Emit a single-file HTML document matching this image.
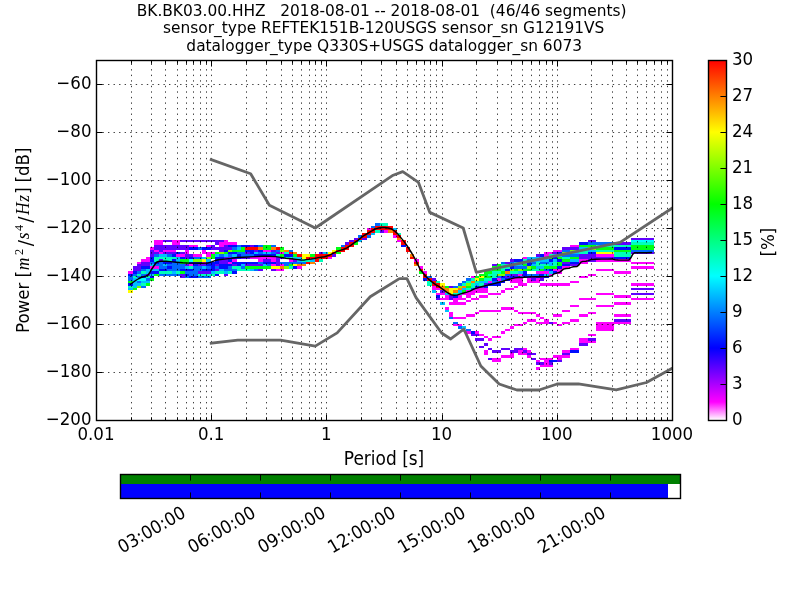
<!DOCTYPE html><html><head><meta charset="utf-8"><style>html,body{margin:0;padding:0;background:#fff;}svg{display:block;will-change:transform}svg{font-family:"DejaVu Sans","Liberation Sans",sans-serif;}</style></head><body>
<svg width="800" height="600" viewBox="0 0 800 600">
<rect x="0" y="0" width="800" height="600" fill="#fff"/>
<g clip-path="url(#axclip)">
<defs><clipPath id="axclip"><rect x="96" y="60" width="576" height="360"/></clipPath></defs>
<g><rect x="128" y="271" width="5" height="3" fill="#ff00ff"/><rect x="128" y="274" width="5" height="2" fill="#000dff"/><rect x="128" y="276" width="5" height="2" fill="#006aff"/><rect x="128" y="278" width="5" height="3" fill="#006aff"/><rect x="128" y="281" width="5" height="2" fill="#00ff15"/><rect x="128" y="283" width="5" height="3" fill="#000dff"/><rect x="128" y="286" width="5" height="2" fill="#00ffbb"/><rect x="128" y="288" width="5" height="2" fill="#00bfff"/><rect x="128" y="290" width="5" height="3" fill="#ffff00"/><rect x="133" y="266" width="4" height="3" fill="#6000ff"/><rect x="133" y="269" width="4" height="2" fill="#6000ff"/><rect x="133" y="271" width="4" height="3" fill="#000dff"/><rect x="133" y="274" width="4" height="2" fill="#006aff"/><rect x="133" y="276" width="4" height="2" fill="#00ffbb"/><rect x="133" y="278" width="4" height="3" fill="#00bfff"/><rect x="133" y="281" width="4" height="2" fill="#00bfff"/><rect x="133" y="283" width="4" height="3" fill="#00bfff"/><rect x="133" y="286" width="4" height="2" fill="#00bfff"/><rect x="133" y="288" width="4" height="2" fill="#00ff15"/><rect x="137" y="262" width="4" height="2" fill="#ff00ff"/><rect x="137" y="264" width="4" height="2" fill="#6000ff"/><rect x="137" y="266" width="4" height="3" fill="#6000ff"/><rect x="137" y="269" width="4" height="2" fill="#6000ff"/><rect x="137" y="271" width="4" height="3" fill="#006aff"/><rect x="137" y="274" width="4" height="2" fill="#00ffbb"/><rect x="137" y="276" width="4" height="2" fill="#006aff"/><rect x="137" y="278" width="4" height="3" fill="#00ffff"/><rect x="137" y="281" width="4" height="2" fill="#006aff"/><rect x="137" y="283" width="4" height="3" fill="#00bfff"/><rect x="137" y="286" width="4" height="2" fill="#7fff00"/><rect x="141" y="259" width="5" height="3" fill="#ff00ff"/><rect x="141" y="262" width="5" height="2" fill="#6000ff"/><rect x="141" y="264" width="5" height="2" fill="#6000ff"/><rect x="141" y="266" width="5" height="3" fill="#000dff"/><rect x="141" y="269" width="5" height="2" fill="#006aff"/><rect x="141" y="271" width="5" height="3" fill="#00ffbb"/><rect x="141" y="274" width="5" height="2" fill="#006aff"/><rect x="141" y="276" width="5" height="2" fill="#000dff"/><rect x="141" y="278" width="5" height="3" fill="#00ffff"/><rect x="141" y="281" width="5" height="2" fill="#00bfff"/><rect x="141" y="283" width="5" height="3" fill="#00ffbb"/><rect x="141" y="286" width="5" height="2" fill="#006aff"/><rect x="146" y="257" width="4" height="2" fill="#ff00ff"/><rect x="146" y="259" width="4" height="3" fill="#ff00ff"/><rect x="146" y="262" width="4" height="2" fill="#6000ff"/><rect x="146" y="264" width="4" height="2" fill="#6000ff"/><rect x="146" y="266" width="4" height="3" fill="#000dff"/><rect x="146" y="269" width="4" height="2" fill="#00bfff"/><rect x="146" y="271" width="4" height="3" fill="#00bfff"/><rect x="146" y="274" width="4" height="2" fill="#6000ff"/><rect x="146" y="276" width="4" height="2" fill="#00ffbb"/><rect x="146" y="278" width="4" height="3" fill="#006aff"/><rect x="146" y="281" width="4" height="2" fill="#00bfff"/><rect x="146" y="283" width="4" height="3" fill="#00ff15"/><rect x="150" y="247" width="4" height="3" fill="#ff00ff"/><rect x="150" y="250" width="4" height="2" fill="#6000ff"/><rect x="150" y="252" width="4" height="2" fill="#6000ff"/><rect x="150" y="254" width="4" height="3" fill="#6000ff"/><rect x="150" y="257" width="4" height="2" fill="#000dff"/><rect x="150" y="259" width="4" height="3" fill="#000dff"/><rect x="150" y="262" width="4" height="2" fill="#006aff"/><rect x="150" y="264" width="4" height="2" fill="#00bfff"/><rect x="150" y="266" width="4" height="3" fill="#ff00ff"/><rect x="150" y="269" width="4" height="2" fill="#00bfff"/><rect x="150" y="271" width="4" height="3" fill="#000dff"/><rect x="150" y="274" width="4" height="2" fill="#00bfff"/><rect x="150" y="276" width="4" height="2" fill="#000dff"/><rect x="150" y="278" width="4" height="3" fill="#00ff15"/><rect x="154" y="240" width="5" height="2" fill="#ff00ff"/><rect x="154" y="242" width="5" height="3" fill="#ff00ff"/><rect x="154" y="245" width="5" height="2" fill="#6000ff"/><rect x="154" y="247" width="5" height="3" fill="#6000ff"/><rect x="154" y="250" width="5" height="2" fill="#ff00ff"/><rect x="154" y="252" width="5" height="2" fill="#6000ff"/><rect x="154" y="254" width="5" height="3" fill="#006aff"/><rect x="154" y="257" width="5" height="2" fill="#00ffbb"/><rect x="154" y="259" width="5" height="3" fill="#00ffbb"/><rect x="154" y="262" width="5" height="2" fill="#000dff"/><rect x="154" y="264" width="5" height="2" fill="#006aff"/><rect x="154" y="266" width="5" height="3" fill="#ff00ff"/><rect x="154" y="269" width="5" height="2" fill="#00bfff"/><rect x="154" y="271" width="5" height="3" fill="#000dff"/><rect x="154" y="274" width="5" height="2" fill="#00ff15"/><rect x="159" y="240" width="4" height="2" fill="#ff00ff"/><rect x="159" y="242" width="4" height="3" fill="#ff00ff"/><rect x="159" y="245" width="4" height="2" fill="#6000ff"/><rect x="159" y="247" width="4" height="3" fill="#6000ff"/><rect x="159" y="250" width="4" height="2" fill="#6000ff"/><rect x="159" y="252" width="4" height="2" fill="#ff00ff"/><rect x="159" y="254" width="4" height="3" fill="#00bfff"/><rect x="159" y="257" width="4" height="2" fill="#00ffbb"/><rect x="159" y="259" width="4" height="3" fill="#6000ff"/><rect x="159" y="262" width="4" height="2" fill="#006aff"/><rect x="159" y="264" width="4" height="2" fill="#006aff"/><rect x="159" y="266" width="4" height="3" fill="#006aff"/><rect x="159" y="269" width="4" height="2" fill="#000dff"/><rect x="159" y="271" width="4" height="3" fill="#00ffbb"/><rect x="159" y="274" width="4" height="2" fill="#006aff"/><rect x="163" y="240" width="4" height="2" fill="#6000ff"/><rect x="163" y="245" width="4" height="2" fill="#6000ff"/><rect x="163" y="247" width="4" height="3" fill="#6000ff"/><rect x="163" y="250" width="4" height="2" fill="#ff00ff"/><rect x="163" y="252" width="4" height="2" fill="#6000ff"/><rect x="163" y="254" width="4" height="3" fill="#00bfff"/><rect x="163" y="257" width="4" height="2" fill="#00ffbb"/><rect x="163" y="259" width="4" height="3" fill="#00ffbb"/><rect x="163" y="262" width="4" height="2" fill="#000dff"/><rect x="163" y="264" width="4" height="2" fill="#00bfff"/><rect x="163" y="266" width="4" height="3" fill="#006aff"/><rect x="163" y="269" width="4" height="2" fill="#000dff"/><rect x="163" y="271" width="4" height="3" fill="#00ffbb"/><rect x="163" y="274" width="4" height="2" fill="#006aff"/><rect x="167" y="240" width="5" height="2" fill="#6000ff"/><rect x="167" y="245" width="5" height="2" fill="#6000ff"/><rect x="167" y="247" width="5" height="3" fill="#6000ff"/><rect x="167" y="250" width="5" height="2" fill="#ff00ff"/><rect x="167" y="252" width="5" height="2" fill="#6000ff"/><rect x="167" y="254" width="5" height="3" fill="#006aff"/><rect x="167" y="257" width="5" height="2" fill="#00ffbb"/><rect x="167" y="259" width="5" height="3" fill="#00ffbb"/><rect x="167" y="262" width="5" height="2" fill="#000dff"/><rect x="167" y="264" width="5" height="2" fill="#006aff"/><rect x="167" y="266" width="5" height="3" fill="#000dff"/><rect x="167" y="269" width="5" height="2" fill="#006aff"/><rect x="167" y="271" width="5" height="3" fill="#00ffbb"/><rect x="167" y="274" width="5" height="2" fill="#006aff"/><rect x="172" y="240" width="4" height="2" fill="#ff00ff"/><rect x="172" y="242" width="4" height="3" fill="#ff00ff"/><rect x="172" y="245" width="4" height="2" fill="#6000ff"/><rect x="172" y="247" width="4" height="3" fill="#6000ff"/><rect x="172" y="250" width="4" height="2" fill="#ff00ff"/><rect x="172" y="252" width="4" height="2" fill="#6000ff"/><rect x="172" y="254" width="4" height="3" fill="#000dff"/><rect x="172" y="257" width="4" height="2" fill="#00ffbb"/><rect x="172" y="259" width="4" height="3" fill="#000dff"/><rect x="172" y="262" width="4" height="2" fill="#006aff"/><rect x="172" y="264" width="4" height="2" fill="#006aff"/><rect x="172" y="266" width="4" height="3" fill="#006aff"/><rect x="172" y="269" width="4" height="2" fill="#006aff"/><rect x="172" y="271" width="4" height="3" fill="#00bfff"/><rect x="172" y="274" width="4" height="2" fill="#006aff"/><rect x="176" y="240" width="4" height="2" fill="#ff00ff"/><rect x="176" y="242" width="4" height="3" fill="#ff00ff"/><rect x="176" y="245" width="4" height="2" fill="#6000ff"/><rect x="176" y="247" width="4" height="3" fill="#6000ff"/><rect x="176" y="252" width="4" height="2" fill="#000dff"/><rect x="176" y="254" width="4" height="3" fill="#ff00ff"/><rect x="176" y="257" width="4" height="2" fill="#00bfff"/><rect x="176" y="259" width="4" height="3" fill="#00bfff"/><rect x="176" y="262" width="4" height="2" fill="#006aff"/><rect x="176" y="264" width="4" height="2" fill="#006aff"/><rect x="176" y="266" width="4" height="3" fill="#006aff"/><rect x="176" y="269" width="4" height="2" fill="#006aff"/><rect x="176" y="271" width="4" height="3" fill="#00ffbb"/><rect x="176" y="274" width="4" height="2" fill="#006aff"/><rect x="180" y="240" width="5" height="2" fill="#6000ff"/><rect x="180" y="245" width="5" height="2" fill="#6000ff"/><rect x="180" y="247" width="5" height="3" fill="#6000ff"/><rect x="180" y="252" width="5" height="2" fill="#6000ff"/><rect x="180" y="254" width="5" height="3" fill="#ff00ff"/><rect x="180" y="257" width="5" height="2" fill="#000dff"/><rect x="180" y="259" width="5" height="3" fill="#00ff15"/><rect x="180" y="262" width="5" height="2" fill="#00ff15"/><rect x="180" y="264" width="5" height="2" fill="#006aff"/><rect x="180" y="266" width="5" height="3" fill="#006aff"/><rect x="180" y="269" width="5" height="2" fill="#000dff"/><rect x="180" y="271" width="5" height="3" fill="#00ff15"/><rect x="180" y="274" width="5" height="2" fill="#6000ff"/><rect x="180" y="276" width="5" height="2" fill="#6000ff"/><rect x="185" y="240" width="4" height="2" fill="#6000ff"/><rect x="185" y="245" width="4" height="2" fill="#6000ff"/><rect x="185" y="247" width="4" height="3" fill="#6000ff"/><rect x="185" y="250" width="4" height="2" fill="#ff00ff"/><rect x="185" y="252" width="4" height="2" fill="#ff00ff"/><rect x="185" y="254" width="4" height="3" fill="#6000ff"/><rect x="185" y="257" width="4" height="2" fill="#6000ff"/><rect x="185" y="259" width="4" height="3" fill="#00ff15"/><rect x="185" y="262" width="4" height="2" fill="#00ff15"/><rect x="185" y="264" width="4" height="2" fill="#6000ff"/><rect x="185" y="266" width="4" height="3" fill="#00bfff"/><rect x="185" y="269" width="4" height="2" fill="#000dff"/><rect x="185" y="271" width="4" height="3" fill="#006aff"/><rect x="185" y="274" width="4" height="2" fill="#000dff"/><rect x="185" y="276" width="4" height="2" fill="#006aff"/><rect x="189" y="240" width="4" height="2" fill="#6000ff"/><rect x="189" y="245" width="4" height="2" fill="#ff00ff"/><rect x="189" y="247" width="4" height="3" fill="#000dff"/><rect x="189" y="254" width="4" height="3" fill="#6000ff"/><rect x="189" y="257" width="4" height="2" fill="#000dff"/><rect x="189" y="259" width="4" height="3" fill="#00ffff"/><rect x="189" y="262" width="4" height="2" fill="#000dff"/><rect x="189" y="264" width="4" height="2" fill="#ff00ff"/><rect x="189" y="266" width="4" height="3" fill="#00ffbb"/><rect x="189" y="269" width="4" height="2" fill="#000dff"/><rect x="189" y="271" width="4" height="3" fill="#006aff"/><rect x="189" y="274" width="4" height="2" fill="#006aff"/><rect x="189" y="276" width="4" height="2" fill="#000dff"/><rect x="193" y="240" width="5" height="2" fill="#6000ff"/><rect x="193" y="245" width="5" height="2" fill="#ff00ff"/><rect x="193" y="247" width="5" height="3" fill="#000dff"/><rect x="193" y="254" width="5" height="3" fill="#ff00ff"/><rect x="193" y="257" width="5" height="2" fill="#006aff"/><rect x="193" y="259" width="5" height="3" fill="#7fff00"/><rect x="193" y="262" width="5" height="2" fill="#000dff"/><rect x="193" y="264" width="5" height="2" fill="#000dff"/><rect x="193" y="266" width="5" height="3" fill="#006aff"/><rect x="193" y="269" width="5" height="2" fill="#006aff"/><rect x="193" y="271" width="5" height="3" fill="#006aff"/><rect x="193" y="274" width="5" height="2" fill="#006aff"/><rect x="193" y="276" width="5" height="2" fill="#000dff"/><rect x="198" y="240" width="4" height="2" fill="#6000ff"/><rect x="198" y="247" width="4" height="3" fill="#006aff"/><rect x="198" y="254" width="4" height="3" fill="#ff00ff"/><rect x="198" y="257" width="4" height="2" fill="#006aff"/><rect x="198" y="259" width="4" height="3" fill="#7fff00"/><rect x="198" y="262" width="4" height="2" fill="#000dff"/><rect x="198" y="264" width="4" height="2" fill="#6000ff"/><rect x="198" y="266" width="4" height="3" fill="#006aff"/><rect x="198" y="269" width="4" height="2" fill="#006aff"/><rect x="198" y="271" width="4" height="3" fill="#6000ff"/><rect x="198" y="274" width="4" height="2" fill="#00ffbb"/><rect x="198" y="276" width="4" height="2" fill="#006aff"/><rect x="202" y="240" width="4" height="2" fill="#6000ff"/><rect x="202" y="247" width="4" height="3" fill="#000dff"/><rect x="202" y="250" width="4" height="2" fill="#ff00ff"/><rect x="202" y="252" width="4" height="2" fill="#ff00ff"/><rect x="202" y="257" width="4" height="2" fill="#00bfff"/><rect x="202" y="259" width="4" height="3" fill="#ffff00"/><rect x="202" y="262" width="4" height="2" fill="#ff00ff"/><rect x="202" y="264" width="4" height="2" fill="#6000ff"/><rect x="202" y="266" width="4" height="3" fill="#00bfff"/><rect x="202" y="269" width="4" height="2" fill="#000dff"/><rect x="202" y="271" width="4" height="3" fill="#6000ff"/><rect x="202" y="274" width="4" height="2" fill="#00ffbb"/><rect x="202" y="276" width="4" height="2" fill="#006aff"/><rect x="206" y="240" width="5" height="2" fill="#6000ff"/><rect x="206" y="245" width="5" height="2" fill="#ff00ff"/><rect x="206" y="247" width="5" height="3" fill="#000dff"/><rect x="206" y="252" width="5" height="2" fill="#ff00ff"/><rect x="206" y="254" width="5" height="3" fill="#ff00ff"/><rect x="206" y="257" width="5" height="2" fill="#7fff00"/><rect x="206" y="259" width="5" height="3" fill="#00bfff"/><rect x="206" y="262" width="5" height="2" fill="#000dff"/><rect x="206" y="264" width="5" height="2" fill="#000dff"/><rect x="206" y="266" width="5" height="3" fill="#006aff"/><rect x="206" y="269" width="5" height="2" fill="#000dff"/><rect x="206" y="271" width="5" height="3" fill="#6000ff"/><rect x="206" y="274" width="5" height="2" fill="#00ffbb"/><rect x="206" y="276" width="5" height="2" fill="#006aff"/><rect x="211" y="240" width="4" height="2" fill="#6000ff"/><rect x="211" y="245" width="4" height="2" fill="#6000ff"/><rect x="211" y="247" width="4" height="3" fill="#6000ff"/><rect x="211" y="252" width="4" height="2" fill="#ff00ff"/><rect x="211" y="254" width="4" height="3" fill="#00ff15"/><rect x="211" y="257" width="4" height="2" fill="#00ff15"/><rect x="211" y="262" width="4" height="2" fill="#000dff"/><rect x="211" y="264" width="4" height="2" fill="#000dff"/><rect x="211" y="266" width="4" height="3" fill="#000dff"/><rect x="211" y="269" width="4" height="2" fill="#000dff"/><rect x="211" y="271" width="4" height="3" fill="#00bfff"/><rect x="211" y="274" width="4" height="2" fill="#00ffbb"/><rect x="215" y="240" width="4" height="2" fill="#6000ff"/><rect x="215" y="242" width="4" height="3" fill="#6000ff"/><rect x="215" y="247" width="4" height="3" fill="#6000ff"/><rect x="215" y="252" width="4" height="2" fill="#00ff15"/><rect x="215" y="254" width="4" height="3" fill="#00bfff"/><rect x="215" y="257" width="4" height="2" fill="#000dff"/><rect x="215" y="259" width="4" height="3" fill="#000dff"/><rect x="215" y="262" width="4" height="2" fill="#000dff"/><rect x="215" y="264" width="4" height="2" fill="#6000ff"/><rect x="215" y="266" width="4" height="3" fill="#006aff"/><rect x="215" y="269" width="4" height="2" fill="#6000ff"/><rect x="215" y="271" width="4" height="3" fill="#00ffbb"/><rect x="215" y="274" width="4" height="2" fill="#000dff"/><rect x="219" y="240" width="5" height="2" fill="#6000ff"/><rect x="219" y="242" width="5" height="3" fill="#ff00ff"/><rect x="219" y="245" width="5" height="2" fill="#ff00ff"/><rect x="219" y="247" width="5" height="3" fill="#6000ff"/><rect x="219" y="250" width="5" height="2" fill="#6000ff"/><rect x="219" y="252" width="5" height="2" fill="#7fff00"/><rect x="219" y="254" width="5" height="3" fill="#006aff"/><rect x="219" y="257" width="5" height="2" fill="#000dff"/><rect x="219" y="259" width="5" height="3" fill="#6000ff"/><rect x="219" y="262" width="5" height="2" fill="#6000ff"/><rect x="219" y="264" width="5" height="2" fill="#000dff"/><rect x="219" y="266" width="5" height="3" fill="#000dff"/><rect x="219" y="269" width="5" height="2" fill="#00bfff"/><rect x="219" y="271" width="5" height="3" fill="#00ffbb"/><rect x="224" y="240" width="4" height="2" fill="#ff00ff"/><rect x="224" y="242" width="4" height="3" fill="#ff00ff"/><rect x="224" y="245" width="4" height="2" fill="#6000ff"/><rect x="224" y="247" width="4" height="3" fill="#6000ff"/><rect x="224" y="250" width="4" height="2" fill="#000dff"/><rect x="224" y="252" width="4" height="2" fill="#00ff15"/><rect x="224" y="254" width="4" height="3" fill="#00bfff"/><rect x="224" y="257" width="4" height="2" fill="#6000ff"/><rect x="224" y="259" width="4" height="3" fill="#6000ff"/><rect x="224" y="262" width="4" height="2" fill="#6000ff"/><rect x="224" y="264" width="4" height="2" fill="#000dff"/><rect x="224" y="266" width="4" height="3" fill="#000dff"/><rect x="224" y="269" width="4" height="2" fill="#006aff"/><rect x="224" y="271" width="4" height="3" fill="#00bfff"/><rect x="224" y="274" width="4" height="2" fill="#6000ff"/><rect x="228" y="242" width="4" height="3" fill="#ff00ff"/><rect x="228" y="245" width="4" height="2" fill="#000dff"/><rect x="228" y="247" width="4" height="3" fill="#6000ff"/><rect x="228" y="250" width="4" height="2" fill="#7fff00"/><rect x="228" y="252" width="4" height="2" fill="#000dff"/><rect x="228" y="254" width="4" height="3" fill="#006aff"/><rect x="228" y="257" width="4" height="2" fill="#6000ff"/><rect x="228" y="259" width="4" height="3" fill="#000dff"/><rect x="228" y="262" width="4" height="2" fill="#ff00ff"/><rect x="228" y="264" width="4" height="2" fill="#000dff"/><rect x="228" y="266" width="4" height="3" fill="#006aff"/><rect x="228" y="269" width="4" height="2" fill="#006aff"/><rect x="228" y="271" width="4" height="3" fill="#00ffbb"/><rect x="232" y="242" width="5" height="3" fill="#ff00ff"/><rect x="232" y="245" width="5" height="2" fill="#000dff"/><rect x="232" y="247" width="5" height="3" fill="#006aff"/><rect x="232" y="250" width="5" height="2" fill="#00ff15"/><rect x="232" y="252" width="5" height="2" fill="#000dff"/><rect x="232" y="254" width="5" height="3" fill="#00bfff"/><rect x="232" y="257" width="5" height="2" fill="#000dff"/><rect x="232" y="259" width="5" height="3" fill="#ff00ff"/><rect x="232" y="262" width="5" height="2" fill="#000dff"/><rect x="232" y="264" width="5" height="2" fill="#6000ff"/><rect x="232" y="266" width="5" height="3" fill="#00ffbb"/><rect x="232" y="269" width="5" height="2" fill="#006aff"/><rect x="232" y="271" width="5" height="3" fill="#000dff"/><rect x="237" y="245" width="4" height="2" fill="#006aff"/><rect x="237" y="247" width="4" height="3" fill="#00bfff"/><rect x="237" y="250" width="4" height="2" fill="#00ff15"/><rect x="237" y="252" width="4" height="2" fill="#006aff"/><rect x="237" y="254" width="4" height="3" fill="#000dff"/><rect x="237" y="257" width="4" height="2" fill="#000dff"/><rect x="237" y="262" width="4" height="2" fill="#000dff"/><rect x="237" y="264" width="4" height="2" fill="#000dff"/><rect x="237" y="266" width="4" height="3" fill="#00ffbb"/><rect x="237" y="269" width="4" height="2" fill="#00ffbb"/><rect x="241" y="245" width="4" height="2" fill="#000dff"/><rect x="241" y="247" width="4" height="3" fill="#00ff15"/><rect x="241" y="250" width="4" height="2" fill="#00ff15"/><rect x="241" y="252" width="4" height="2" fill="#006aff"/><rect x="241" y="254" width="4" height="3" fill="#006aff"/><rect x="241" y="257" width="4" height="2" fill="#6000ff"/><rect x="241" y="262" width="4" height="2" fill="#000dff"/><rect x="241" y="264" width="4" height="2" fill="#00bfff"/><rect x="241" y="266" width="4" height="3" fill="#006aff"/><rect x="241" y="269" width="4" height="2" fill="#00ffbb"/><rect x="245" y="245" width="5" height="2" fill="#000dff"/><rect x="245" y="247" width="5" height="3" fill="#ff0000"/><rect x="245" y="250" width="5" height="2" fill="#000dff"/><rect x="245" y="252" width="5" height="2" fill="#6000ff"/><rect x="245" y="254" width="5" height="3" fill="#006aff"/><rect x="245" y="257" width="5" height="2" fill="#6000ff"/><rect x="245" y="262" width="5" height="2" fill="#000dff"/><rect x="245" y="264" width="5" height="2" fill="#6000ff"/><rect x="245" y="266" width="5" height="3" fill="#00ff15"/><rect x="245" y="269" width="5" height="2" fill="#00ffbb"/><rect x="250" y="245" width="4" height="2" fill="#6000ff"/><rect x="250" y="247" width="4" height="3" fill="#ff0000"/><rect x="250" y="250" width="4" height="2" fill="#000dff"/><rect x="250" y="252" width="4" height="2" fill="#000dff"/><rect x="250" y="254" width="4" height="3" fill="#006aff"/><rect x="250" y="257" width="4" height="2" fill="#ff00ff"/><rect x="250" y="262" width="4" height="2" fill="#000dff"/><rect x="250" y="264" width="4" height="2" fill="#6000ff"/><rect x="250" y="266" width="4" height="3" fill="#00ff15"/><rect x="250" y="269" width="4" height="2" fill="#00bfff"/><rect x="254" y="245" width="4" height="2" fill="#000dff"/><rect x="254" y="247" width="4" height="3" fill="#ff0000"/><rect x="254" y="250" width="4" height="2" fill="#6000ff"/><rect x="254" y="252" width="4" height="2" fill="#00bfff"/><rect x="254" y="254" width="4" height="3" fill="#000dff"/><rect x="254" y="257" width="4" height="2" fill="#ff00ff"/><rect x="254" y="262" width="4" height="2" fill="#000dff"/><rect x="254" y="264" width="4" height="2" fill="#6000ff"/><rect x="254" y="266" width="4" height="3" fill="#00ff15"/><rect x="254" y="269" width="4" height="2" fill="#006aff"/><rect x="258" y="245" width="5" height="2" fill="#006aff"/><rect x="258" y="247" width="5" height="3" fill="#ff8000"/><rect x="258" y="250" width="5" height="2" fill="#000dff"/><rect x="258" y="252" width="5" height="2" fill="#006aff"/><rect x="258" y="254" width="5" height="3" fill="#000dff"/><rect x="258" y="257" width="5" height="2" fill="#ff00ff"/><rect x="258" y="259" width="5" height="3" fill="#ff00ff"/><rect x="258" y="262" width="5" height="2" fill="#006aff"/><rect x="258" y="264" width="5" height="2" fill="#6000ff"/><rect x="258" y="266" width="5" height="3" fill="#00ff15"/><rect x="258" y="269" width="5" height="2" fill="#6000ff"/><rect x="263" y="245" width="4" height="2" fill="#00ff15"/><rect x="263" y="247" width="4" height="3" fill="#00ff15"/><rect x="263" y="250" width="4" height="2" fill="#ff00ff"/><rect x="263" y="252" width="4" height="2" fill="#00bfff"/><rect x="263" y="254" width="4" height="3" fill="#000dff"/><rect x="263" y="257" width="4" height="2" fill="#ff00ff"/><rect x="263" y="259" width="4" height="3" fill="#6000ff"/><rect x="263" y="262" width="4" height="2" fill="#000dff"/><rect x="263" y="264" width="4" height="2" fill="#00bfff"/><rect x="263" y="266" width="4" height="3" fill="#00ff15"/><rect x="267" y="245" width="4" height="2" fill="#00ff15"/><rect x="267" y="247" width="4" height="3" fill="#00ff15"/><rect x="267" y="250" width="4" height="2" fill="#ff00ff"/><rect x="267" y="252" width="4" height="2" fill="#00bfff"/><rect x="267" y="254" width="4" height="3" fill="#000dff"/><rect x="267" y="257" width="4" height="2" fill="#ff00ff"/><rect x="267" y="259" width="4" height="3" fill="#6000ff"/><rect x="267" y="262" width="4" height="2" fill="#000dff"/><rect x="267" y="264" width="4" height="2" fill="#006aff"/><rect x="267" y="266" width="4" height="3" fill="#00ff15"/><rect x="271" y="245" width="5" height="2" fill="#006aff"/><rect x="271" y="247" width="5" height="3" fill="#ff8000"/><rect x="271" y="250" width="5" height="2" fill="#6000ff"/><rect x="271" y="252" width="5" height="2" fill="#006aff"/><rect x="271" y="254" width="5" height="3" fill="#000dff"/><rect x="271" y="257" width="5" height="2" fill="#ff00ff"/><rect x="271" y="259" width="5" height="3" fill="#ff00ff"/><rect x="271" y="262" width="5" height="2" fill="#000dff"/><rect x="271" y="264" width="5" height="2" fill="#ff00ff"/><rect x="271" y="266" width="5" height="3" fill="#ffff00"/><rect x="271" y="269" width="5" height="2" fill="#6000ff"/><rect x="276" y="247" width="4" height="3" fill="#ff0000"/><rect x="276" y="250" width="4" height="2" fill="#006aff"/><rect x="276" y="252" width="4" height="2" fill="#6000ff"/><rect x="276" y="254" width="4" height="3" fill="#00ffbb"/><rect x="276" y="257" width="4" height="2" fill="#6000ff"/><rect x="276" y="259" width="4" height="3" fill="#6000ff"/><rect x="276" y="262" width="4" height="2" fill="#6000ff"/><rect x="276" y="264" width="4" height="2" fill="#6000ff"/><rect x="276" y="266" width="4" height="3" fill="#ffff00"/><rect x="276" y="269" width="4" height="2" fill="#ff00ff"/><rect x="280" y="247" width="4" height="3" fill="#00ff15"/><rect x="280" y="250" width="4" height="2" fill="#7fff00"/><rect x="280" y="252" width="4" height="2" fill="#ff00ff"/><rect x="280" y="254" width="4" height="3" fill="#00ff15"/><rect x="280" y="257" width="4" height="2" fill="#6000ff"/><rect x="280" y="262" width="4" height="2" fill="#006aff"/><rect x="280" y="264" width="4" height="2" fill="#ff00ff"/><rect x="280" y="266" width="4" height="3" fill="#ff8000"/><rect x="280" y="269" width="4" height="2" fill="#ff00ff"/><rect x="284" y="250" width="5" height="2" fill="#ff8000"/><rect x="284" y="252" width="5" height="2" fill="#00ffbb"/><rect x="284" y="254" width="5" height="3" fill="#000dff"/><rect x="284" y="257" width="5" height="2" fill="#00ffbb"/><rect x="284" y="262" width="5" height="2" fill="#006aff"/><rect x="284" y="264" width="5" height="2" fill="#006aff"/><rect x="284" y="266" width="5" height="3" fill="#7fff00"/><rect x="289" y="250" width="4" height="2" fill="#006aff"/><rect x="289" y="252" width="4" height="2" fill="#ff0000"/><rect x="289" y="254" width="4" height="3" fill="#000dff"/><rect x="289" y="257" width="4" height="2" fill="#00ffbb"/><rect x="289" y="259" width="4" height="3" fill="#ff00ff"/><rect x="289" y="262" width="4" height="2" fill="#006aff"/><rect x="289" y="264" width="4" height="2" fill="#00ff15"/><rect x="289" y="266" width="4" height="3" fill="#00ffbb"/><rect x="293" y="252" width="4" height="2" fill="#ff8000"/><rect x="293" y="254" width="4" height="3" fill="#00ff15"/><rect x="293" y="257" width="4" height="2" fill="#00bfff"/><rect x="293" y="259" width="4" height="3" fill="#6000ff"/><rect x="293" y="262" width="4" height="2" fill="#006aff"/><rect x="293" y="264" width="4" height="2" fill="#ffff00"/><rect x="293" y="266" width="4" height="3" fill="#000dff"/><rect x="297" y="254" width="5" height="3" fill="#ff0000"/><rect x="297" y="257" width="5" height="2" fill="#00bfff"/><rect x="297" y="259" width="5" height="3" fill="#00bfff"/><rect x="297" y="262" width="5" height="2" fill="#006aff"/><rect x="297" y="264" width="5" height="2" fill="#ff8000"/><rect x="297" y="266" width="5" height="3" fill="#ff00ff"/><rect x="302" y="254" width="4" height="3" fill="#ffff00"/><rect x="302" y="257" width="4" height="2" fill="#ffff00"/><rect x="302" y="259" width="4" height="3" fill="#00ffbb"/><rect x="302" y="262" width="4" height="2" fill="#006aff"/><rect x="302" y="264" width="4" height="2" fill="#ff8000"/><rect x="306" y="254" width="4" height="3" fill="#ffff00"/><rect x="306" y="257" width="4" height="2" fill="#ff0000"/><rect x="306" y="259" width="4" height="3" fill="#00ffbb"/><rect x="306" y="262" width="4" height="2" fill="#ff0000"/><rect x="310" y="254" width="5" height="3" fill="#00ff15"/><rect x="310" y="257" width="5" height="2" fill="#ff0000"/><rect x="310" y="259" width="5" height="3" fill="#00bfff"/><rect x="310" y="262" width="5" height="2" fill="#ff8000"/><rect x="315" y="254" width="4" height="3" fill="#ff0000"/><rect x="315" y="257" width="4" height="2" fill="#ff0000"/><rect x="315" y="259" width="4" height="3" fill="#ff0000"/><rect x="319" y="252" width="4" height="2" fill="#6000ff"/><rect x="319" y="254" width="4" height="3" fill="#ff0000"/><rect x="319" y="257" width="4" height="2" fill="#ff0000"/><rect x="319" y="259" width="4" height="3" fill="#00ffbb"/><rect x="323" y="252" width="5" height="2" fill="#00bfff"/><rect x="323" y="254" width="5" height="3" fill="#ff0000"/><rect x="323" y="257" width="5" height="2" fill="#ff0000"/><rect x="328" y="252" width="4" height="2" fill="#ffff00"/><rect x="328" y="254" width="4" height="3" fill="#ff0000"/><rect x="328" y="257" width="4" height="2" fill="#ff00ff"/><rect x="332" y="250" width="4" height="2" fill="#ffff00"/><rect x="332" y="252" width="4" height="2" fill="#ff0000"/><rect x="332" y="254" width="4" height="3" fill="#6000ff"/><rect x="336" y="247" width="5" height="3" fill="#00ff15"/><rect x="336" y="250" width="5" height="2" fill="#ff0000"/><rect x="336" y="252" width="5" height="2" fill="#00ff15"/><rect x="341" y="245" width="4" height="2" fill="#006aff"/><rect x="341" y="247" width="4" height="3" fill="#ff0000"/><rect x="341" y="250" width="4" height="2" fill="#ff0000"/><rect x="345" y="242" width="4" height="3" fill="#6000ff"/><rect x="345" y="245" width="4" height="2" fill="#ff0000"/><rect x="345" y="247" width="4" height="3" fill="#ff0000"/><rect x="349" y="240" width="5" height="2" fill="#6000ff"/><rect x="349" y="242" width="5" height="3" fill="#ff0000"/><rect x="349" y="245" width="5" height="2" fill="#ff0000"/><rect x="354" y="238" width="4" height="2" fill="#6000ff"/><rect x="354" y="240" width="4" height="2" fill="#ff0000"/><rect x="354" y="242" width="4" height="3" fill="#00ff15"/><rect x="358" y="235" width="4" height="3" fill="#006aff"/><rect x="358" y="238" width="4" height="2" fill="#ff0000"/><rect x="358" y="240" width="4" height="2" fill="#00bfff"/><rect x="362" y="233" width="5" height="2" fill="#ff0000"/><rect x="362" y="235" width="5" height="3" fill="#ff0000"/><rect x="362" y="238" width="5" height="2" fill="#6000ff"/><rect x="367" y="228" width="4" height="2" fill="#ff00ff"/><rect x="367" y="230" width="4" height="3" fill="#ff0000"/><rect x="367" y="233" width="4" height="2" fill="#ff0000"/><rect x="367" y="235" width="4" height="3" fill="#006aff"/><rect x="371" y="226" width="4" height="2" fill="#006aff"/><rect x="371" y="228" width="4" height="2" fill="#ff0000"/><rect x="371" y="230" width="4" height="3" fill="#ff0000"/><rect x="371" y="233" width="4" height="2" fill="#00bfff"/><rect x="375" y="223" width="5" height="3" fill="#006aff"/><rect x="375" y="226" width="5" height="2" fill="#ff0000"/><rect x="375" y="228" width="5" height="2" fill="#ff0000"/><rect x="375" y="230" width="5" height="3" fill="#00ffbb"/><rect x="380" y="223" width="4" height="3" fill="#00ffbb"/><rect x="380" y="226" width="4" height="2" fill="#ff0000"/><rect x="380" y="228" width="4" height="2" fill="#ff0000"/><rect x="380" y="230" width="4" height="3" fill="#6000ff"/><rect x="384" y="223" width="4" height="3" fill="#00ffbb"/><rect x="384" y="226" width="4" height="2" fill="#ff0000"/><rect x="384" y="228" width="4" height="2" fill="#ff0000"/><rect x="384" y="230" width="4" height="3" fill="#ff00ff"/><rect x="388" y="226" width="5" height="2" fill="#ff0000"/><rect x="388" y="228" width="5" height="2" fill="#ff0000"/><rect x="388" y="230" width="5" height="3" fill="#ff8000"/><rect x="393" y="228" width="4" height="2" fill="#00bfff"/><rect x="393" y="230" width="4" height="3" fill="#ff0000"/><rect x="393" y="233" width="4" height="2" fill="#ff0000"/><rect x="393" y="235" width="4" height="3" fill="#ff00ff"/><rect x="397" y="233" width="4" height="2" fill="#00ffbb"/><rect x="397" y="235" width="4" height="3" fill="#ff0000"/><rect x="397" y="238" width="4" height="2" fill="#ff8000"/><rect x="397" y="240" width="4" height="2" fill="#ff00ff"/><rect x="401" y="240" width="5" height="2" fill="#ff0000"/><rect x="401" y="242" width="5" height="3" fill="#ff0000"/><rect x="401" y="245" width="5" height="2" fill="#000dff"/><rect x="406" y="247" width="4" height="3" fill="#ff0000"/><rect x="406" y="250" width="4" height="2" fill="#ff0000"/><rect x="410" y="254" width="4" height="3" fill="#ff8000"/><rect x="410" y="257" width="4" height="2" fill="#ff0000"/><rect x="414" y="259" width="5" height="3" fill="#ff00ff"/><rect x="414" y="262" width="5" height="2" fill="#ff0000"/><rect x="414" y="264" width="5" height="2" fill="#ff8000"/><rect x="419" y="266" width="4" height="3" fill="#ff00ff"/><rect x="419" y="269" width="4" height="2" fill="#ff0000"/><rect x="419" y="271" width="4" height="3" fill="#00ff15"/><rect x="423" y="271" width="4" height="3" fill="#ff00ff"/><rect x="423" y="274" width="4" height="2" fill="#ff0000"/><rect x="423" y="276" width="4" height="2" fill="#ff0000"/><rect x="423" y="278" width="4" height="3" fill="#000dff"/><rect x="427" y="276" width="5" height="2" fill="#006aff"/><rect x="427" y="278" width="5" height="3" fill="#ff0000"/><rect x="427" y="281" width="5" height="2" fill="#00ffbb"/><rect x="427" y="283" width="5" height="3" fill="#00ffbb"/><rect x="432" y="278" width="4" height="3" fill="#6000ff"/><rect x="432" y="281" width="4" height="2" fill="#ff0000"/><rect x="432" y="283" width="4" height="3" fill="#ff0000"/><rect x="432" y="286" width="4" height="2" fill="#ff00ff"/><rect x="432" y="288" width="4" height="2" fill="#ff00ff"/><rect x="432" y="290" width="4" height="3" fill="#00bfff"/><rect x="436" y="281" width="4" height="2" fill="#00ffbb"/><rect x="436" y="283" width="4" height="3" fill="#ff0000"/><rect x="436" y="286" width="4" height="2" fill="#ff0000"/><rect x="436" y="288" width="4" height="2" fill="#ff00ff"/><rect x="436" y="293" width="4" height="2" fill="#ff00ff"/><rect x="436" y="295" width="4" height="3" fill="#000dff"/><rect x="436" y="298" width="4" height="2" fill="#6000ff"/><rect x="440" y="283" width="5" height="3" fill="#ffff00"/><rect x="440" y="286" width="5" height="2" fill="#ff8000"/><rect x="440" y="288" width="5" height="2" fill="#ff8000"/><rect x="440" y="290" width="5" height="3" fill="#6000ff"/><rect x="440" y="293" width="5" height="2" fill="#ff00ff"/><rect x="440" y="298" width="5" height="2" fill="#ff00ff"/><rect x="440" y="302" width="5" height="3" fill="#00bfff"/><rect x="445" y="286" width="4" height="2" fill="#00ff15"/><rect x="445" y="288" width="4" height="2" fill="#ff8000"/><rect x="445" y="290" width="4" height="3" fill="#ff8000"/><rect x="445" y="293" width="4" height="2" fill="#00bfff"/><rect x="445" y="295" width="4" height="3" fill="#ff00ff"/><rect x="445" y="298" width="4" height="2" fill="#ff00ff"/><rect x="445" y="307" width="4" height="3" fill="#ff00ff"/><rect x="445" y="310" width="4" height="2" fill="#00bfff"/><rect x="449" y="286" width="4" height="2" fill="#6000ff"/><rect x="449" y="288" width="4" height="2" fill="#ffff00"/><rect x="449" y="290" width="4" height="3" fill="#ffff00"/><rect x="449" y="293" width="4" height="2" fill="#ffff00"/><rect x="449" y="295" width="4" height="3" fill="#6000ff"/><rect x="449" y="298" width="4" height="2" fill="#6000ff"/><rect x="449" y="302" width="4" height="3" fill="#ff00ff"/><rect x="449" y="312" width="4" height="2" fill="#ff00ff"/><rect x="449" y="314" width="4" height="3" fill="#ff00ff"/><rect x="449" y="317" width="4" height="2" fill="#006aff"/><rect x="453" y="286" width="5" height="2" fill="#006aff"/><rect x="453" y="288" width="5" height="2" fill="#ffff00"/><rect x="453" y="290" width="5" height="3" fill="#ff8000"/><rect x="453" y="293" width="5" height="2" fill="#00ffbb"/><rect x="453" y="295" width="5" height="3" fill="#000dff"/><rect x="453" y="298" width="5" height="2" fill="#ff00ff"/><rect x="453" y="300" width="5" height="2" fill="#ff00ff"/><rect x="453" y="302" width="5" height="3" fill="#ff00ff"/><rect x="453" y="317" width="5" height="2" fill="#ff00ff"/><rect x="453" y="322" width="5" height="2" fill="#006aff"/><rect x="453" y="324" width="5" height="2" fill="#ff00ff"/><rect x="458" y="283" width="4" height="3" fill="#006aff"/><rect x="458" y="286" width="4" height="2" fill="#7fff00"/><rect x="458" y="288" width="4" height="2" fill="#ff8000"/><rect x="458" y="290" width="4" height="3" fill="#00bfff"/><rect x="458" y="293" width="4" height="2" fill="#00ffbb"/><rect x="458" y="295" width="4" height="3" fill="#ff00ff"/><rect x="458" y="298" width="4" height="2" fill="#ff00ff"/><rect x="458" y="302" width="4" height="3" fill="#ff00ff"/><rect x="458" y="317" width="4" height="2" fill="#ff00ff"/><rect x="458" y="324" width="4" height="2" fill="#ff00ff"/><rect x="458" y="326" width="4" height="3" fill="#006aff"/><rect x="462" y="281" width="4" height="2" fill="#006aff"/><rect x="462" y="283" width="4" height="3" fill="#00ffbb"/><rect x="462" y="286" width="4" height="2" fill="#ff8000"/><rect x="462" y="288" width="4" height="2" fill="#00bfff"/><rect x="462" y="290" width="4" height="3" fill="#00ff15"/><rect x="462" y="293" width="4" height="2" fill="#ff00ff"/><rect x="462" y="298" width="4" height="2" fill="#ff00ff"/><rect x="462" y="302" width="4" height="3" fill="#ff00ff"/><rect x="462" y="317" width="4" height="2" fill="#ff00ff"/><rect x="462" y="326" width="4" height="3" fill="#00bfff"/><rect x="466" y="278" width="5" height="3" fill="#006aff"/><rect x="466" y="281" width="5" height="2" fill="#00ffbb"/><rect x="466" y="283" width="5" height="3" fill="#7fff00"/><rect x="466" y="286" width="5" height="2" fill="#00ff15"/><rect x="466" y="288" width="5" height="2" fill="#00ffbb"/><rect x="466" y="290" width="5" height="3" fill="#ff00ff"/><rect x="466" y="293" width="5" height="2" fill="#ff00ff"/><rect x="466" y="295" width="5" height="3" fill="#ff00ff"/><rect x="466" y="300" width="5" height="2" fill="#ff00ff"/><rect x="466" y="314" width="5" height="3" fill="#ff00ff"/><rect x="466" y="329" width="5" height="2" fill="#006aff"/><rect x="466" y="331" width="5" height="3" fill="#ff00ff"/><rect x="471" y="276" width="4" height="2" fill="#ff00ff"/><rect x="471" y="278" width="4" height="3" fill="#00ffbb"/><rect x="471" y="281" width="4" height="2" fill="#ff8000"/><rect x="471" y="283" width="4" height="3" fill="#00ffbb"/><rect x="471" y="286" width="4" height="2" fill="#00ffbb"/><rect x="471" y="288" width="4" height="2" fill="#006aff"/><rect x="471" y="290" width="4" height="3" fill="#ff00ff"/><rect x="471" y="293" width="4" height="2" fill="#ff00ff"/><rect x="471" y="298" width="4" height="2" fill="#ff00ff"/><rect x="471" y="314" width="4" height="3" fill="#ff00ff"/><rect x="471" y="331" width="4" height="3" fill="#000dff"/><rect x="471" y="334" width="4" height="2" fill="#6000ff"/><rect x="475" y="276" width="4" height="2" fill="#00ff15"/><rect x="475" y="278" width="4" height="3" fill="#ffff00"/><rect x="475" y="281" width="4" height="2" fill="#00ffbb"/><rect x="475" y="283" width="4" height="3" fill="#00bfff"/><rect x="475" y="286" width="4" height="2" fill="#000dff"/><rect x="475" y="288" width="4" height="2" fill="#ff00ff"/><rect x="475" y="290" width="4" height="3" fill="#ff00ff"/><rect x="475" y="298" width="4" height="2" fill="#ff00ff"/><rect x="475" y="312" width="4" height="2" fill="#ff00ff"/><rect x="475" y="331" width="4" height="3" fill="#ff00ff"/><rect x="475" y="334" width="4" height="2" fill="#6000ff"/><rect x="475" y="338" width="4" height="3" fill="#6000ff"/><rect x="479" y="274" width="5" height="2" fill="#00ff15"/><rect x="479" y="276" width="5" height="2" fill="#ffff00"/><rect x="479" y="278" width="5" height="3" fill="#00ff15"/><rect x="479" y="281" width="5" height="2" fill="#00bfff"/><rect x="479" y="283" width="5" height="3" fill="#00ffbb"/><rect x="479" y="286" width="5" height="2" fill="#6000ff"/><rect x="479" y="288" width="5" height="2" fill="#ff00ff"/><rect x="479" y="290" width="5" height="3" fill="#ff00ff"/><rect x="479" y="295" width="5" height="3" fill="#ff00ff"/><rect x="479" y="310" width="5" height="2" fill="#ff00ff"/><rect x="479" y="334" width="5" height="2" fill="#ff00ff"/><rect x="479" y="338" width="5" height="3" fill="#6000ff"/><rect x="479" y="346" width="5" height="2" fill="#6000ff"/><rect x="484" y="271" width="4" height="3" fill="#00ff15"/><rect x="484" y="274" width="4" height="2" fill="#00ff15"/><rect x="484" y="276" width="4" height="2" fill="#00ff15"/><rect x="484" y="278" width="4" height="3" fill="#00ffbb"/><rect x="484" y="281" width="4" height="2" fill="#00bfff"/><rect x="484" y="283" width="4" height="3" fill="#6000ff"/><rect x="484" y="286" width="4" height="2" fill="#000dff"/><rect x="484" y="288" width="4" height="2" fill="#ff00ff"/><rect x="484" y="290" width="4" height="3" fill="#ff00ff"/><rect x="484" y="295" width="4" height="3" fill="#ff00ff"/><rect x="484" y="310" width="4" height="2" fill="#ff00ff"/><rect x="484" y="336" width="4" height="2" fill="#ff00ff"/><rect x="484" y="343" width="4" height="3" fill="#6000ff"/><rect x="484" y="350" width="4" height="3" fill="#ff00ff"/><rect x="484" y="353" width="4" height="2" fill="#ff00ff"/><rect x="488" y="269" width="4" height="2" fill="#00ffbb"/><rect x="488" y="271" width="4" height="3" fill="#00ff15"/><rect x="488" y="274" width="4" height="2" fill="#00ffbb"/><rect x="488" y="276" width="4" height="2" fill="#00ff15"/><rect x="488" y="278" width="4" height="3" fill="#00ffbb"/><rect x="488" y="281" width="4" height="2" fill="#ff00ff"/><rect x="488" y="283" width="4" height="3" fill="#000dff"/><rect x="488" y="293" width="4" height="2" fill="#ff00ff"/><rect x="488" y="310" width="4" height="2" fill="#ff00ff"/><rect x="488" y="338" width="4" height="3" fill="#ff00ff"/><rect x="488" y="348" width="4" height="2" fill="#6000ff"/><rect x="488" y="358" width="4" height="2" fill="#6000ff"/><rect x="492" y="264" width="5" height="2" fill="#6000ff"/><rect x="492" y="266" width="5" height="3" fill="#00ff15"/><rect x="492" y="269" width="5" height="2" fill="#00ff15"/><rect x="492" y="271" width="5" height="3" fill="#00ffbb"/><rect x="492" y="274" width="5" height="2" fill="#00ffbb"/><rect x="492" y="276" width="5" height="2" fill="#00ffbb"/><rect x="492" y="278" width="5" height="3" fill="#000dff"/><rect x="492" y="281" width="5" height="2" fill="#006aff"/><rect x="492" y="283" width="5" height="3" fill="#000dff"/><rect x="492" y="293" width="5" height="2" fill="#ff00ff"/><rect x="492" y="310" width="5" height="2" fill="#ff00ff"/><rect x="492" y="336" width="5" height="2" fill="#ff00ff"/><rect x="492" y="350" width="5" height="3" fill="#6000ff"/><rect x="492" y="358" width="5" height="2" fill="#ff00ff"/><rect x="492" y="360" width="5" height="2" fill="#ff00ff"/><rect x="497" y="264" width="4" height="2" fill="#00ff15"/><rect x="497" y="266" width="4" height="3" fill="#00ff15"/><rect x="497" y="269" width="4" height="2" fill="#00ff15"/><rect x="497" y="271" width="4" height="3" fill="#00ffbb"/><rect x="497" y="274" width="4" height="2" fill="#7fff00"/><rect x="497" y="276" width="4" height="2" fill="#006aff"/><rect x="497" y="278" width="4" height="3" fill="#ff00ff"/><rect x="497" y="281" width="4" height="2" fill="#006aff"/><rect x="497" y="283" width="4" height="3" fill="#000dff"/><rect x="497" y="293" width="4" height="2" fill="#ff00ff"/><rect x="497" y="310" width="4" height="2" fill="#ff00ff"/><rect x="497" y="336" width="4" height="2" fill="#ff00ff"/><rect x="497" y="350" width="4" height="3" fill="#6000ff"/><rect x="497" y="358" width="4" height="2" fill="#ff00ff"/><rect x="497" y="360" width="4" height="2" fill="#ff00ff"/><rect x="501" y="262" width="4" height="2" fill="#006aff"/><rect x="501" y="264" width="4" height="2" fill="#00ffbb"/><rect x="501" y="266" width="4" height="3" fill="#00ffbb"/><rect x="501" y="269" width="4" height="2" fill="#00ffbb"/><rect x="501" y="271" width="4" height="3" fill="#00ff15"/><rect x="501" y="274" width="4" height="2" fill="#7fff00"/><rect x="501" y="276" width="4" height="2" fill="#000dff"/><rect x="501" y="278" width="4" height="3" fill="#006aff"/><rect x="501" y="281" width="4" height="2" fill="#000dff"/><rect x="501" y="290" width="4" height="3" fill="#ff00ff"/><rect x="501" y="307" width="4" height="3" fill="#ff00ff"/><rect x="501" y="331" width="4" height="3" fill="#ff00ff"/><rect x="501" y="348" width="4" height="2" fill="#6000ff"/><rect x="501" y="355" width="4" height="3" fill="#ff00ff"/><rect x="505" y="262" width="5" height="2" fill="#6000ff"/><rect x="505" y="264" width="5" height="2" fill="#00ffbb"/><rect x="505" y="266" width="5" height="3" fill="#00ffbb"/><rect x="505" y="269" width="5" height="2" fill="#000dff"/><rect x="505" y="271" width="5" height="3" fill="#ff8000"/><rect x="505" y="274" width="5" height="2" fill="#006aff"/><rect x="505" y="276" width="5" height="2" fill="#6000ff"/><rect x="505" y="278" width="5" height="3" fill="#000dff"/><rect x="505" y="288" width="5" height="2" fill="#ff00ff"/><rect x="505" y="307" width="5" height="3" fill="#ff00ff"/><rect x="505" y="329" width="5" height="2" fill="#ff00ff"/><rect x="505" y="348" width="5" height="2" fill="#6000ff"/><rect x="505" y="355" width="5" height="3" fill="#ff00ff"/><rect x="510" y="259" width="4" height="3" fill="#6000ff"/><rect x="510" y="262" width="4" height="2" fill="#006aff"/><rect x="510" y="264" width="4" height="2" fill="#00bfff"/><rect x="510" y="266" width="4" height="3" fill="#000dff"/><rect x="510" y="269" width="4" height="2" fill="#7fff00"/><rect x="510" y="271" width="4" height="3" fill="#00ffbb"/><rect x="510" y="274" width="4" height="2" fill="#6000ff"/><rect x="510" y="276" width="4" height="2" fill="#000dff"/><rect x="510" y="278" width="4" height="3" fill="#ff00ff"/><rect x="510" y="281" width="4" height="2" fill="#ff00ff"/><rect x="510" y="288" width="4" height="2" fill="#ff00ff"/><rect x="510" y="307" width="4" height="3" fill="#ff00ff"/><rect x="510" y="326" width="4" height="3" fill="#ff00ff"/><rect x="510" y="350" width="4" height="3" fill="#6000ff"/><rect x="510" y="353" width="4" height="2" fill="#ff00ff"/><rect x="510" y="355" width="4" height="3" fill="#ff00ff"/><rect x="514" y="259" width="4" height="3" fill="#000dff"/><rect x="514" y="262" width="4" height="2" fill="#00bfff"/><rect x="514" y="264" width="4" height="2" fill="#00bfff"/><rect x="514" y="266" width="4" height="3" fill="#006aff"/><rect x="514" y="269" width="4" height="2" fill="#00ff15"/><rect x="514" y="271" width="4" height="3" fill="#00ffbb"/><rect x="514" y="274" width="4" height="2" fill="#6000ff"/><rect x="514" y="276" width="4" height="2" fill="#000dff"/><rect x="514" y="278" width="4" height="3" fill="#ff00ff"/><rect x="514" y="281" width="4" height="2" fill="#ff00ff"/><rect x="514" y="286" width="4" height="2" fill="#ff00ff"/><rect x="514" y="310" width="4" height="2" fill="#ff00ff"/><rect x="514" y="324" width="4" height="2" fill="#ff00ff"/><rect x="514" y="348" width="4" height="2" fill="#6000ff"/><rect x="514" y="350" width="4" height="3" fill="#6000ff"/><rect x="518" y="259" width="5" height="3" fill="#000dff"/><rect x="518" y="262" width="5" height="2" fill="#00bfff"/><rect x="518" y="264" width="5" height="2" fill="#00bfff"/><rect x="518" y="266" width="5" height="3" fill="#006aff"/><rect x="518" y="269" width="5" height="2" fill="#7fff00"/><rect x="518" y="271" width="5" height="3" fill="#00bfff"/><rect x="518" y="274" width="5" height="2" fill="#ff00ff"/><rect x="518" y="276" width="5" height="2" fill="#006aff"/><rect x="518" y="278" width="5" height="3" fill="#ff00ff"/><rect x="518" y="281" width="5" height="2" fill="#ff00ff"/><rect x="518" y="283" width="5" height="3" fill="#ff00ff"/><rect x="518" y="312" width="5" height="2" fill="#ff00ff"/><rect x="518" y="324" width="5" height="2" fill="#ff00ff"/><rect x="518" y="348" width="5" height="2" fill="#6000ff"/><rect x="518" y="350" width="5" height="3" fill="#ff00ff"/><rect x="518" y="353" width="5" height="2" fill="#ff00ff"/><rect x="523" y="257" width="4" height="2" fill="#ff00ff"/><rect x="523" y="259" width="4" height="3" fill="#00ffbb"/><rect x="523" y="262" width="4" height="2" fill="#00bfff"/><rect x="523" y="264" width="4" height="2" fill="#00ff15"/><rect x="523" y="266" width="4" height="3" fill="#006aff"/><rect x="523" y="269" width="4" height="2" fill="#00ff15"/><rect x="523" y="271" width="4" height="3" fill="#000dff"/><rect x="523" y="274" width="4" height="2" fill="#000dff"/><rect x="523" y="276" width="4" height="2" fill="#000dff"/><rect x="523" y="283" width="4" height="3" fill="#ff00ff"/><rect x="523" y="312" width="4" height="2" fill="#ff00ff"/><rect x="523" y="322" width="4" height="2" fill="#ff00ff"/><rect x="523" y="348" width="4" height="2" fill="#ff00ff"/><rect x="523" y="350" width="4" height="3" fill="#6000ff"/><rect x="523" y="353" width="4" height="2" fill="#ff00ff"/><rect x="527" y="257" width="4" height="2" fill="#00bfff"/><rect x="527" y="259" width="4" height="3" fill="#006aff"/><rect x="527" y="262" width="4" height="2" fill="#000dff"/><rect x="527" y="264" width="4" height="2" fill="#000dff"/><rect x="527" y="266" width="4" height="3" fill="#7fff00"/><rect x="527" y="269" width="4" height="2" fill="#00ff15"/><rect x="527" y="274" width="4" height="2" fill="#006aff"/><rect x="527" y="276" width="4" height="2" fill="#000dff"/><rect x="527" y="278" width="4" height="3" fill="#ff00ff"/><rect x="527" y="281" width="4" height="2" fill="#ff00ff"/><rect x="527" y="312" width="4" height="2" fill="#ff00ff"/><rect x="527" y="319" width="4" height="3" fill="#ff00ff"/><rect x="527" y="350" width="4" height="3" fill="#ff00ff"/><rect x="527" y="353" width="4" height="2" fill="#6000ff"/><rect x="527" y="355" width="4" height="3" fill="#ff00ff"/><rect x="531" y="257" width="5" height="2" fill="#00bfff"/><rect x="531" y="259" width="5" height="3" fill="#00bfff"/><rect x="531" y="262" width="5" height="2" fill="#006aff"/><rect x="531" y="264" width="5" height="2" fill="#00bfff"/><rect x="531" y="266" width="5" height="3" fill="#00ff15"/><rect x="531" y="269" width="5" height="2" fill="#00ffbb"/><rect x="531" y="274" width="5" height="2" fill="#006aff"/><rect x="531" y="276" width="5" height="2" fill="#6000ff"/><rect x="531" y="278" width="5" height="3" fill="#6000ff"/><rect x="531" y="281" width="5" height="2" fill="#ff00ff"/><rect x="531" y="312" width="5" height="2" fill="#ff00ff"/><rect x="531" y="319" width="5" height="3" fill="#ff00ff"/><rect x="531" y="353" width="5" height="2" fill="#6000ff"/><rect x="531" y="358" width="5" height="2" fill="#6000ff"/><rect x="536" y="254" width="4" height="3" fill="#6000ff"/><rect x="536" y="257" width="4" height="2" fill="#00bfff"/><rect x="536" y="259" width="4" height="3" fill="#00bfff"/><rect x="536" y="262" width="4" height="2" fill="#00ffbb"/><rect x="536" y="264" width="4" height="2" fill="#00ffbb"/><rect x="536" y="266" width="4" height="3" fill="#00bfff"/><rect x="536" y="269" width="4" height="2" fill="#00ffbb"/><rect x="536" y="271" width="4" height="3" fill="#ff00ff"/><rect x="536" y="274" width="4" height="2" fill="#006aff"/><rect x="536" y="276" width="4" height="2" fill="#000dff"/><rect x="536" y="278" width="4" height="3" fill="#ff00ff"/><rect x="536" y="281" width="4" height="2" fill="#ff00ff"/><rect x="536" y="314" width="4" height="3" fill="#ff00ff"/><rect x="536" y="322" width="4" height="2" fill="#ff00ff"/><rect x="536" y="360" width="4" height="2" fill="#ff00ff"/><rect x="536" y="362" width="4" height="3" fill="#6000ff"/><rect x="536" y="367" width="4" height="3" fill="#ff00ff"/><rect x="540" y="254" width="4" height="3" fill="#000dff"/><rect x="540" y="257" width="4" height="2" fill="#00bfff"/><rect x="540" y="259" width="4" height="3" fill="#00bfff"/><rect x="540" y="262" width="4" height="2" fill="#006aff"/><rect x="540" y="264" width="4" height="2" fill="#00ffbb"/><rect x="540" y="266" width="4" height="3" fill="#00bfff"/><rect x="540" y="269" width="4" height="2" fill="#00ff15"/><rect x="540" y="271" width="4" height="3" fill="#ff00ff"/><rect x="540" y="274" width="4" height="2" fill="#000dff"/><rect x="540" y="276" width="4" height="2" fill="#6000ff"/><rect x="540" y="278" width="4" height="3" fill="#6000ff"/><rect x="540" y="283" width="4" height="3" fill="#ff00ff"/><rect x="540" y="317" width="4" height="2" fill="#ff00ff"/><rect x="540" y="322" width="4" height="2" fill="#ff00ff"/><rect x="540" y="358" width="4" height="2" fill="#ff00ff"/><rect x="540" y="362" width="4" height="3" fill="#6000ff"/><rect x="540" y="365" width="4" height="2" fill="#ff00ff"/><rect x="544" y="252" width="5" height="2" fill="#ff00ff"/><rect x="544" y="254" width="5" height="3" fill="#ff00ff"/><rect x="544" y="257" width="5" height="2" fill="#00bfff"/><rect x="544" y="259" width="5" height="3" fill="#00bfff"/><rect x="544" y="262" width="5" height="2" fill="#006aff"/><rect x="544" y="264" width="5" height="2" fill="#00ffbb"/><rect x="544" y="266" width="5" height="3" fill="#00ff15"/><rect x="544" y="269" width="5" height="2" fill="#006aff"/><rect x="544" y="271" width="5" height="3" fill="#ff00ff"/><rect x="544" y="274" width="5" height="2" fill="#00bfff"/><rect x="544" y="276" width="5" height="2" fill="#000dff"/><rect x="544" y="283" width="5" height="3" fill="#ff00ff"/><rect x="544" y="319" width="5" height="3" fill="#ff00ff"/><rect x="544" y="322" width="5" height="2" fill="#ff00ff"/><rect x="544" y="358" width="5" height="2" fill="#ff00ff"/><rect x="544" y="360" width="5" height="2" fill="#ff00ff"/><rect x="544" y="362" width="5" height="3" fill="#ff00ff"/><rect x="544" y="365" width="5" height="2" fill="#ff00ff"/><rect x="549" y="252" width="4" height="2" fill="#ff00ff"/><rect x="549" y="254" width="4" height="3" fill="#00ffbb"/><rect x="549" y="257" width="4" height="2" fill="#00ff15"/><rect x="549" y="259" width="4" height="3" fill="#000dff"/><rect x="549" y="262" width="4" height="2" fill="#00bfff"/><rect x="549" y="264" width="4" height="2" fill="#00bfff"/><rect x="549" y="266" width="4" height="3" fill="#00ff15"/><rect x="549" y="269" width="4" height="2" fill="#000dff"/><rect x="549" y="271" width="4" height="3" fill="#00bfff"/><rect x="549" y="274" width="4" height="2" fill="#ff00ff"/><rect x="549" y="283" width="4" height="3" fill="#ff00ff"/><rect x="549" y="322" width="4" height="2" fill="#6000ff"/><rect x="549" y="358" width="4" height="2" fill="#ff00ff"/><rect x="549" y="360" width="4" height="2" fill="#000dff"/><rect x="549" y="362" width="4" height="3" fill="#6000ff"/><rect x="549" y="365" width="4" height="2" fill="#ff00ff"/><rect x="553" y="250" width="4" height="2" fill="#ff00ff"/><rect x="553" y="252" width="4" height="2" fill="#6000ff"/><rect x="553" y="254" width="4" height="3" fill="#00bfff"/><rect x="553" y="257" width="4" height="2" fill="#000dff"/><rect x="553" y="259" width="4" height="3" fill="#00bfff"/><rect x="553" y="262" width="4" height="2" fill="#00ffbb"/><rect x="553" y="264" width="4" height="2" fill="#00ffbb"/><rect x="553" y="266" width="4" height="3" fill="#00ff15"/><rect x="553" y="269" width="4" height="2" fill="#ff00ff"/><rect x="553" y="271" width="4" height="3" fill="#000dff"/><rect x="553" y="283" width="4" height="3" fill="#ff00ff"/><rect x="553" y="314" width="4" height="3" fill="#ff00ff"/><rect x="553" y="322" width="4" height="2" fill="#ff00ff"/><rect x="553" y="355" width="4" height="3" fill="#ff00ff"/><rect x="553" y="360" width="4" height="2" fill="#000dff"/><rect x="557" y="250" width="5" height="2" fill="#ff00ff"/><rect x="557" y="252" width="5" height="2" fill="#000dff"/><rect x="557" y="254" width="5" height="3" fill="#00bfff"/><rect x="557" y="257" width="5" height="2" fill="#00ff15"/><rect x="557" y="259" width="5" height="3" fill="#000dff"/><rect x="557" y="262" width="5" height="2" fill="#00ff15"/><rect x="557" y="264" width="5" height="2" fill="#00ff15"/><rect x="557" y="266" width="5" height="3" fill="#000dff"/><rect x="557" y="269" width="5" height="2" fill="#ff00ff"/><rect x="557" y="271" width="5" height="3" fill="#ff00ff"/><rect x="557" y="283" width="5" height="3" fill="#ff00ff"/><rect x="557" y="314" width="5" height="3" fill="#ff00ff"/><rect x="557" y="324" width="5" height="2" fill="#ff00ff"/><rect x="557" y="355" width="5" height="3" fill="#ff00ff"/><rect x="557" y="358" width="5" height="2" fill="#ff00ff"/><rect x="557" y="360" width="5" height="2" fill="#6000ff"/><rect x="562" y="247" width="8" height="3" fill="#6000ff"/><rect x="562" y="250" width="8" height="2" fill="#006aff"/><rect x="562" y="252" width="8" height="2" fill="#7fff00"/><rect x="562" y="254" width="8" height="3" fill="#006aff"/><rect x="562" y="257" width="8" height="2" fill="#00ffbb"/><rect x="562" y="259" width="8" height="3" fill="#00ff15"/><rect x="562" y="262" width="8" height="2" fill="#6000ff"/><rect x="562" y="264" width="8" height="2" fill="#000dff"/><rect x="562" y="266" width="8" height="3" fill="#ff00ff"/><rect x="562" y="283" width="8" height="3" fill="#ff00ff"/><rect x="562" y="310" width="8" height="2" fill="#ff00ff"/><rect x="562" y="322" width="8" height="2" fill="#ff00ff"/><rect x="562" y="350" width="8" height="3" fill="#ff00ff"/><rect x="562" y="353" width="8" height="2" fill="#6000ff"/><rect x="562" y="355" width="8" height="3" fill="#ff00ff"/><rect x="570" y="245" width="9" height="2" fill="#ff00ff"/><rect x="570" y="247" width="9" height="3" fill="#6000ff"/><rect x="570" y="250" width="9" height="2" fill="#7fff00"/><rect x="570" y="252" width="9" height="2" fill="#00bfff"/><rect x="570" y="254" width="9" height="3" fill="#006aff"/><rect x="570" y="257" width="9" height="2" fill="#00ff15"/><rect x="570" y="259" width="9" height="3" fill="#00bfff"/><rect x="570" y="262" width="9" height="2" fill="#000dff"/><rect x="570" y="264" width="9" height="2" fill="#6000ff"/><rect x="570" y="281" width="9" height="2" fill="#ff00ff"/><rect x="570" y="305" width="9" height="2" fill="#ff00ff"/><rect x="570" y="319" width="9" height="3" fill="#ff00ff"/><rect x="570" y="348" width="9" height="2" fill="#ff00ff"/><rect x="570" y="350" width="9" height="3" fill="#000dff"/><rect x="579" y="242" width="9" height="3" fill="#000dff"/><rect x="579" y="245" width="9" height="2" fill="#00ff15"/><rect x="579" y="247" width="9" height="3" fill="#00bfff"/><rect x="579" y="250" width="9" height="2" fill="#00ffbb"/><rect x="579" y="252" width="9" height="2" fill="#00ffbb"/><rect x="579" y="254" width="9" height="3" fill="#6000ff"/><rect x="579" y="257" width="9" height="2" fill="#6000ff"/><rect x="579" y="259" width="9" height="3" fill="#ff00ff"/><rect x="579" y="262" width="9" height="2" fill="#ff00ff"/><rect x="579" y="276" width="9" height="2" fill="#ff00ff"/><rect x="579" y="298" width="9" height="2" fill="#ff00ff"/><rect x="579" y="314" width="9" height="3" fill="#ff00ff"/><rect x="579" y="338" width="9" height="3" fill="#ff00ff"/><rect x="579" y="341" width="9" height="2" fill="#ff00ff"/><rect x="579" y="343" width="9" height="3" fill="#6000ff"/><rect x="588" y="240" width="8" height="2" fill="#6000ff"/><rect x="588" y="242" width="8" height="3" fill="#006aff"/><rect x="588" y="245" width="8" height="2" fill="#00ff15"/><rect x="588" y="247" width="8" height="3" fill="#7fff00"/><rect x="588" y="250" width="8" height="2" fill="#00bfff"/><rect x="588" y="252" width="8" height="2" fill="#000dff"/><rect x="588" y="254" width="8" height="3" fill="#6000ff"/><rect x="588" y="257" width="8" height="2" fill="#6000ff"/><rect x="588" y="259" width="8" height="3" fill="#6000ff"/><rect x="588" y="274" width="8" height="2" fill="#ff00ff"/><rect x="588" y="298" width="8" height="2" fill="#ff00ff"/><rect x="588" y="312" width="8" height="2" fill="#ff00ff"/><rect x="588" y="334" width="8" height="2" fill="#ff00ff"/><rect x="588" y="338" width="8" height="3" fill="#6000ff"/><rect x="588" y="341" width="8" height="2" fill="#ff00ff"/><rect x="596" y="242" width="18" height="3" fill="#006aff"/><rect x="596" y="245" width="18" height="2" fill="#00ffbb"/><rect x="596" y="247" width="18" height="3" fill="#00ff15"/><rect x="596" y="250" width="18" height="2" fill="#00ffbb"/><rect x="596" y="252" width="18" height="2" fill="#ffff00"/><rect x="596" y="254" width="18" height="3" fill="#ff00ff"/><rect x="596" y="257" width="18" height="2" fill="#6000ff"/><rect x="596" y="259" width="18" height="3" fill="#ff00ff"/><rect x="596" y="269" width="18" height="2" fill="#ff00ff"/><rect x="596" y="293" width="18" height="2" fill="#ff00ff"/><rect x="596" y="305" width="18" height="2" fill="#ff00ff"/><rect x="596" y="322" width="18" height="2" fill="#ff00ff"/><rect x="596" y="324" width="18" height="2" fill="#ff00ff"/><rect x="596" y="326" width="18" height="3" fill="#ff00ff"/><rect x="596" y="329" width="18" height="2" fill="#ff00ff"/><rect x="614" y="242" width="17" height="3" fill="#6000ff"/><rect x="614" y="245" width="17" height="2" fill="#00ffbb"/><rect x="614" y="247" width="17" height="3" fill="#000dff"/><rect x="614" y="250" width="17" height="2" fill="#00ff15"/><rect x="614" y="252" width="17" height="2" fill="#00ffbb"/><rect x="614" y="254" width="17" height="3" fill="#00ffbb"/><rect x="614" y="257" width="17" height="2" fill="#000dff"/><rect x="614" y="259" width="17" height="3" fill="#ff00ff"/><rect x="614" y="271" width="17" height="3" fill="#ff00ff"/><rect x="614" y="295" width="17" height="3" fill="#ff00ff"/><rect x="614" y="302" width="17" height="3" fill="#ff00ff"/><rect x="614" y="314" width="17" height="3" fill="#ff00ff"/><rect x="614" y="319" width="17" height="3" fill="#6000ff"/><rect x="614" y="322" width="17" height="2" fill="#ff00ff"/><rect x="631" y="238" width="23" height="2" fill="#6000ff"/><rect x="631" y="240" width="23" height="2" fill="#00ffff"/><rect x="631" y="242" width="23" height="3" fill="#00ffbb"/><rect x="631" y="245" width="23" height="2" fill="#00ff15"/><rect x="631" y="247" width="23" height="3" fill="#00ff15"/><rect x="631" y="250" width="23" height="2" fill="#006aff"/><rect x="631" y="252" width="23" height="2" fill="#6000ff"/><rect x="631" y="262" width="23" height="2" fill="#ff00ff"/><rect x="631" y="266" width="23" height="3" fill="#ff00ff"/><rect x="631" y="283" width="23" height="3" fill="#ff00ff"/><rect x="631" y="288" width="23" height="2" fill="#6000ff"/><rect x="631" y="293" width="23" height="2" fill="#6000ff"/><rect x="631" y="298" width="23" height="2" fill="#ff00ff"/></g>
</g>
<path d="M131.50 420.50V60.00M151.50 420.50V60.00M165.50 420.50V60.00M177.50 420.50V60.00M186.50 420.50V60.00M193.50 420.50V60.00M200.50 420.50V60.00M206.50 420.50V60.00M211.50 420.50V60.00M246.50 420.50V60.00M266.50 420.50V60.00M281.50 420.50V60.00M292.50 420.50V60.00M301.50 420.50V60.00M309.50 420.50V60.00M315.50 420.50V60.00M321.50 420.50V60.00M326.50 420.50V60.00M361.50 420.50V60.00M381.50 420.50V60.00M396.50 420.50V60.00M407.50 420.50V60.00M416.50 420.50V60.00M424.50 420.50V60.00M430.50 420.50V60.00M436.50 420.50V60.00M442.50 420.50V60.00M476.50 420.50V60.00M497.50 420.50V60.00M511.50 420.50V60.00M522.50 420.50V60.00M531.50 420.50V60.00M539.50 420.50V60.00M546.50 420.50V60.00M552.50 420.50V60.00M557.50 420.50V60.00M591.50 420.50V60.00M612.50 420.50V60.00M626.50 420.50V60.00M637.50 420.50V60.00M646.50 420.50V60.00M654.50 420.50V60.00M661.50 420.50V60.00M667.50 420.50V60.00" stroke="#000" stroke-width="0.75" stroke-dasharray="1.387 4.16" stroke-dashoffset="-0.5" fill="none"/>
<path d="M96.50 372.50H672.00M96.50 324.50H672.00M96.50 276.50H672.00M96.50 228.50H672.00M96.50 180.50H672.00M96.50 132.50H672.00M96.50 84.50H672.00" stroke="#000" stroke-width="0.75" stroke-dasharray="1.387 4.16" stroke-dashoffset="-0.4" fill="none"/>
<g clip-path="url(#axclip)">
<polyline points="211.20,343.20 237.75,340.08 237.75,340.08 280.56,340.08 280.56,340.07 315.24,346.07 315.24,346.08 337.16,332.88 337.16,332.87 370.20,296.75 370.20,296.75 399.38,278.63 399.38,278.64 406.92,278.64 406.92,278.63 416.04,297.59 416.04,297.60 441.60,333.00 441.60,333.00 450.72,339.00 450.72,338.99 463.85,329.10 463.85,329.11 480.82,366.00 480.82,366.01 499.16,384.01 499.16,383.99 516.85,389.99 516.85,390.00 538.96,390.00 538.96,390.00 557.30,384.01 557.30,384.00 578.40,384.00 578.40,383.97 616.23,389.97 616.23,389.98 646.44,382.49 646.44,382.51 726.96,337.89" fill="none" stroke="#666" stroke-width="2.8" stroke-linejoin="round" stroke-linecap="square"/>
<polyline points="211.20,159.60 250.65,173.76 250.65,173.77 269.39,205.21 269.39,205.20 315.24,227.99 315.24,228.00 393.19,175.20 393.19,175.19 402.75,171.59 402.75,171.59 418.48,182.40 418.48,182.40 429.81,212.40 429.81,212.39 463.20,227.99 463.20,228.01 476.28,272.40 476.28,272.39 620.16,242.39 620.16,242.41 726.96,172.03" fill="none" stroke="#666" stroke-width="2.8" stroke-linejoin="round" stroke-linecap="square"/>
</g>
<polyline clip-path="url(#axclip)" points="130.50,284.25 133.50,282.00 136.00,280.25 138.50,278.75 141.00,277.50 143.50,276.75 146.00,276.00 148.00,275.00 149.50,273.00 151.00,270.25 153.00,267.25 155.00,264.25 156.50,262.25 158.50,261.50 161.00,261.25 166.00,261.25 170.25,261.60 176.50,262.20 182.75,262.80 189.00,263.10 195.25,263.10 201.50,263.25 207.75,263.10 211.50,261.90 215.10,260.60 218.25,259.70 224.50,259.10 230.75,258.40 237.00,257.50 243.25,257.20 249.50,256.90 255.75,256.60 262.00,256.25 269.00,256.30 276.00,256.60 281.00,257.40 286.00,258.25 291.00,258.75 296.00,259.40 301.00,260.00 304.00,260.10 306.00,259.60 311.00,259.10 314.00,258.60 318.25,257.60 324.50,256.70 329.50,255.10 333.90,252.90 337.00,251.40 340.10,250.40 343.25,249.50 347.00,247.90 350.75,245.40 354.50,242.60 358.25,240.10 361.00,237.80 363.10,236.10 366.25,234.25 369.40,232.40 372.50,230.50 375.60,228.90 378.75,228.00 381.90,227.50 385.00,227.50 388.10,228.00 391.25,228.90 394.40,230.80 397.50,233.60 400.60,237.40 403.75,241.10 406.90,245.50 412.00,253.50 416.00,260.50 420.00,269.25 423.10,273.00 426.25,276.75 429.40,279.90 432.50,282.40 435.60,284.60 438.75,286.40 441.90,288.60 445.00,290.80 448.10,293.00 451.25,294.75 454.40,295.20 457.50,294.90 460.60,293.90 463.75,293.00 466.90,292.10 470.00,291.10 474.25,288.90 480.50,287.00 486.75,285.40 493.00,283.90 499.25,282.30 502.40,281.40 505.50,280.40 508.60,279.50 511.75,278.60 514.90,277.90 518.00,277.50 522.25,277.50 528.50,276.90 534.75,276.75 541.00,276.75 547.25,276.60 550.40,276.10 552.25,275.60 553.50,274.10 556.60,273.10 559.75,272.20 561.60,270.60 563.50,269.10 566.00,268.50 569.00,268.40 570.90,267.40 573.40,266.80 577.10,266.50 579.00,264.90 580.90,262.10 582.75,261.40 585.90,261.20 588.40,260.60 590.90,259.60 595.25,259.30 601.50,259.10 607.75,259.10 612.00,258.90 615.10,259.70 618.25,260.00 624.50,260.10 628.90,260.00 630.75,258.10 632.60,254.40 634.50,252.80 640.10,252.80 646.40,252.80 651.40,252.50" fill="none" stroke="#000" stroke-width="1.45" stroke-linejoin="round" stroke-linecap="square"/>
<rect x="96.5" y="60.5" width="576" height="360" fill="none" stroke="#000" stroke-width="1.4"/>
<path d="M96.50 420.50v-6.06M96.50 60.50v6.06M131.50 420.50v-3.28M131.50 60.50v3.28M151.50 420.50v-3.28M151.50 60.50v3.28M165.50 420.50v-3.28M165.50 60.50v3.28M177.50 420.50v-3.28M177.50 60.50v3.28M186.50 420.50v-3.28M186.50 60.50v3.28M193.50 420.50v-3.28M193.50 60.50v3.28M200.50 420.50v-3.28M200.50 60.50v3.28M206.50 420.50v-3.28M206.50 60.50v3.28M211.50 420.50v-6.06M211.50 60.50v6.06M246.50 420.50v-3.28M246.50 60.50v3.28M266.50 420.50v-3.28M266.50 60.50v3.28M281.50 420.50v-3.28M281.50 60.50v3.28M292.50 420.50v-3.28M292.50 60.50v3.28M301.50 420.50v-3.28M301.50 60.50v3.28M309.50 420.50v-3.28M309.50 60.50v3.28M315.50 420.50v-3.28M315.50 60.50v3.28M321.50 420.50v-3.28M321.50 60.50v3.28M326.50 420.50v-6.06M326.50 60.50v6.06M361.50 420.50v-3.28M361.50 60.50v3.28M381.50 420.50v-3.28M381.50 60.50v3.28M396.50 420.50v-3.28M396.50 60.50v3.28M407.50 420.50v-3.28M407.50 60.50v3.28M416.50 420.50v-3.28M416.50 60.50v3.28M424.50 420.50v-3.28M424.50 60.50v3.28M430.50 420.50v-3.28M430.50 60.50v3.28M436.50 420.50v-3.28M436.50 60.50v3.28M442.50 420.50v-6.06M442.50 60.50v6.06M476.50 420.50v-3.28M476.50 60.50v3.28M497.50 420.50v-3.28M497.50 60.50v3.28M511.50 420.50v-3.28M511.50 60.50v3.28M522.50 420.50v-3.28M522.50 60.50v3.28M531.50 420.50v-3.28M531.50 60.50v3.28M539.50 420.50v-3.28M539.50 60.50v3.28M546.50 420.50v-3.28M546.50 60.50v3.28M552.50 420.50v-3.28M552.50 60.50v3.28M557.50 420.50v-6.06M557.50 60.50v6.06M591.50 420.50v-3.28M591.50 60.50v3.28M612.50 420.50v-3.28M612.50 60.50v3.28M626.50 420.50v-3.28M626.50 60.50v3.28M637.50 420.50v-3.28M637.50 60.50v3.28M646.50 420.50v-3.28M646.50 60.50v3.28M654.50 420.50v-3.28M654.50 60.50v3.28M661.50 420.50v-3.28M661.50 60.50v3.28M667.50 420.50v-3.28M667.50 60.50v3.28M672.50 420.50v-6.06M672.50 60.50v6.06M96.50 420.50h6.06M672.50 420.50h-6.06M96.50 372.50h6.06M672.50 372.50h-6.06M96.50 324.50h6.06M672.50 324.50h-6.06M96.50 276.50h6.06M672.50 276.50h-6.06M96.50 228.50h6.06M672.50 228.50h-6.06M96.50 180.50h6.06M672.50 180.50h-6.06M96.50 132.50h6.06M672.50 132.50h-6.06M96.50 84.50h6.06M672.50 84.50h-6.06" stroke="#000" stroke-width="1" fill="none"/>
<text transform="translate(96.00,440.00) scale(1,1.080)" font-size="16.67" text-anchor="middle">0.01</text>
<text transform="translate(211.20,440.00) scale(1,1.080)" font-size="16.67" text-anchor="middle">0.1</text>
<text transform="translate(326.40,440.00) scale(1,1.080)" font-size="16.67" text-anchor="middle">1</text>
<text transform="translate(441.60,440.00) scale(1,1.080)" font-size="16.67" text-anchor="middle">10</text>
<text transform="translate(556.80,440.00) scale(1,1.080)" font-size="16.67" text-anchor="middle">100</text>
<text transform="translate(672.00,440.00) scale(1,1.080)" font-size="16.67" text-anchor="middle">1000</text>
<text transform="translate(91.50,424.70) scale(1,1.080)" font-size="16.67" text-anchor="end">−200</text>
<text transform="translate(91.50,376.70) scale(1,1.080)" font-size="16.67" text-anchor="end">−180</text>
<text transform="translate(91.50,328.70) scale(1,1.080)" font-size="16.67" text-anchor="end">−160</text>
<text transform="translate(91.50,280.70) scale(1,1.080)" font-size="16.67" text-anchor="end">−140</text>
<text transform="translate(91.50,232.70) scale(1,1.080)" font-size="16.67" text-anchor="end">−120</text>
<text transform="translate(91.50,184.70) scale(1,1.080)" font-size="16.67" text-anchor="end">−100</text>
<text transform="translate(91.50,136.70) scale(1,1.080)" font-size="16.67" text-anchor="end">−80</text>
<text transform="translate(91.50,88.70) scale(1,1.080)" font-size="16.67" text-anchor="end">−60</text>
<text transform="translate(384.00,464.70) scale(1,1.100)" font-size="17" text-anchor="middle">Period [s]</text>
<text transform="translate(29.00,302.00) rotate(-90) scale(1,1.080)" font-size="16.67" text-anchor="middle">Power [</text>
<text transform="translate(29.00,264.00) rotate(-90) scale(1,1.080)" font-size="17.5" text-anchor="middle" style="font-family:'Liberation Serif','DejaVu Serif',serif" font-style="italic">m</text>
<text transform="translate(23.10,252.05) rotate(-90) scale(1,1.080)" font-size="12.2" text-anchor="middle" style="font-family:'Liberation Serif','DejaVu Serif',serif">2</text>
<text transform="translate(31.60,243.25) rotate(-90) scale(1,1.080)" font-size="18.5" text-anchor="middle">/</text>
<text transform="translate(29.00,235.75) rotate(-90) scale(1,1.080)" font-size="17.5" text-anchor="middle" style="font-family:'Liberation Serif','DejaVu Serif',serif" font-style="italic">s</text>
<text transform="translate(23.10,228.00) rotate(-90) scale(1,1.080)" font-size="12.2" text-anchor="middle" style="font-family:'Liberation Serif','DejaVu Serif',serif">4</text>
<text transform="translate(31.60,219.75) rotate(-90) scale(1,1.080)" font-size="18.5" text-anchor="middle">/</text>
<text transform="translate(29.00,208.75) rotate(-90) scale(1,1.080)" font-size="17.5" text-anchor="middle" style="font-family:'Liberation Serif','DejaVu Serif',serif" font-style="italic">H</text>
<text transform="translate(29.00,198.25) rotate(-90) scale(1,1.080)" font-size="17.5" text-anchor="middle" style="font-family:'Liberation Serif','DejaVu Serif',serif" font-style="italic">z</text>
<text transform="translate(29.00,190.50) rotate(-90) scale(1,1.080)" font-size="16.67" text-anchor="middle">]</text>
<text transform="translate(29.00,165.00) rotate(-90) scale(1,1.080)" font-size="16.67" text-anchor="middle">[dB]</text>
<text x="381.70" y="15.80" font-size="15.4" text-anchor="middle" xml:space="preserve" style="white-space:pre">BK.BK03.00.HHZ   2018-08-01 -- 2018-08-01  (46/46 segments)</text>
<text x="383.70" y="33.10" font-size="15.4" text-anchor="middle" xml:space="preserve" style="white-space:pre">sensor_type REFTEK151B-120USGS sensor_sn G12191VS</text>
<text x="384.20" y="51.30" font-size="15.4" text-anchor="middle" xml:space="preserve" style="white-space:pre">datalogger_type Q330S+USGS datalogger_sn 6073</text>
<defs><linearGradient id="cbg" x1="0" y1="1" x2="0" y2="0"><stop offset="0" stop-color="rgb(255,255,255)"/><stop offset="0.05" stop-color="rgb(255,0,255)"/><stop offset="0.2" stop-color="rgb(0,0,255)"/><stop offset="0.4" stop-color="rgb(0,255,255)"/><stop offset="0.6" stop-color="rgb(0,255,0)"/><stop offset="0.8" stop-color="rgb(255,255,0)"/><stop offset="1" stop-color="rgb(255,0,0)"/></linearGradient></defs>
<rect x="708" y="60" width="18" height="360" fill="url(#cbg)"/>
<rect x="708.5" y="60.5" width="18" height="360" fill="none" stroke="#000" stroke-width="1.4"/>
<text transform="translate(732.00,424.70) scale(1,1.080)" font-size="16.67">0</text>
<text transform="translate(732.00,388.70) scale(1,1.080)" font-size="16.67">3</text>
<text transform="translate(732.00,352.70) scale(1,1.080)" font-size="16.67">6</text>
<text transform="translate(732.00,316.70) scale(1,1.080)" font-size="16.67">9</text>
<text transform="translate(732.00,280.70) scale(1,1.080)" font-size="16.67">12</text>
<text transform="translate(732.00,244.70) scale(1,1.080)" font-size="16.67">15</text>
<text transform="translate(732.00,208.70) scale(1,1.080)" font-size="16.67">18</text>
<text transform="translate(732.00,172.70) scale(1,1.080)" font-size="16.67">21</text>
<text transform="translate(732.00,136.70) scale(1,1.080)" font-size="16.67">24</text>
<text transform="translate(732.00,100.70) scale(1,1.080)" font-size="16.67">27</text>
<text transform="translate(732.00,64.70) scale(1,1.080)" font-size="16.67">30</text>
<path d="M726.50 420.50h-6.06M726.50 384.50h-6.06M726.50 348.50h-6.06M726.50 312.50h-6.06M726.50 276.50h-6.06M726.50 240.50h-6.06M726.50 204.50h-6.06M726.50 168.50h-6.06M726.50 132.50h-6.06M726.50 96.50h-6.06M726.50 60.50h-6.06" stroke="#000" stroke-width="1" fill="none"/>
<text transform="translate(774,242.2) rotate(-90) scale(1,1.080)" font-size="16.67" text-anchor="middle">[%]</text>
<rect x="120" y="474" width="560" height="10" fill="#008000"/>
<rect x="120" y="484" width="548" height="14" fill="#0000ff"/>
<rect x="120.5" y="474.5" width="560" height="24" fill="none" stroke="#000" stroke-width="1.4"/>
<text transform="translate(187.00,516.30) rotate(-30) scale(1,1.080)" font-size="16.67" text-anchor="end">03:00:00</text>
<text transform="translate(257.00,516.30) rotate(-30) scale(1,1.080)" font-size="16.67" text-anchor="end">06:00:00</text>
<text transform="translate(327.00,516.30) rotate(-30) scale(1,1.080)" font-size="16.67" text-anchor="end">09:00:00</text>
<text transform="translate(397.00,516.30) rotate(-30) scale(1,1.080)" font-size="16.67" text-anchor="end">12:00:00</text>
<text transform="translate(467.00,516.30) rotate(-30) scale(1,1.080)" font-size="16.67" text-anchor="end">15:00:00</text>
<text transform="translate(537.00,516.30) rotate(-30) scale(1,1.080)" font-size="16.67" text-anchor="end">18:00:00</text>
<text transform="translate(607.00,516.30) rotate(-30) scale(1,1.080)" font-size="16.67" text-anchor="end">21:00:00</text>
<path d="M190.50 498.50v-6.06M190.50 474.50v6.06M260.50 498.50v-6.06M260.50 474.50v6.06M330.50 498.50v-6.06M330.50 474.50v6.06M400.50 498.50v-6.06M400.50 474.50v6.06M470.50 498.50v-6.06M470.50 474.50v6.06M540.50 498.50v-6.06M540.50 474.50v6.06M610.50 498.50v-6.06M610.50 474.50v6.06" stroke="#000" stroke-width="1" fill="none"/>
</svg></body></html>
